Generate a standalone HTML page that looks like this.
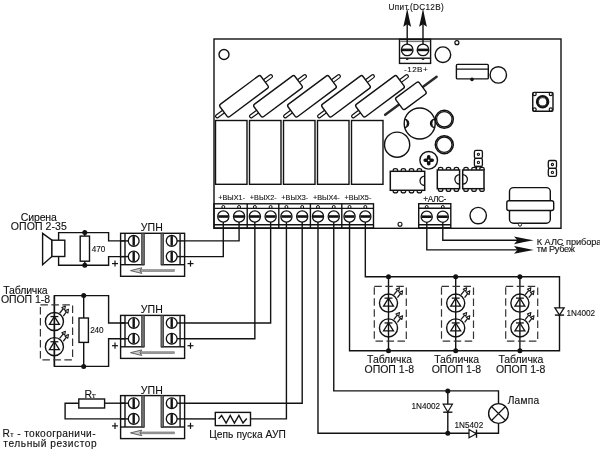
<!DOCTYPE html>
<html><head><meta charset="utf-8"><style>
html,body{margin:0;padding:0;background:#fff;width:600px;height:456px;overflow:hidden}
svg{display:block;will-change:transform}
text{font-family:"Liberation Sans",sans-serif;fill:#111;stroke:#111;stroke-width:0.12px}
</style></head><body>
<svg width="600" height="456" viewBox="0 0 600 456">
<rect width="600" height="456" fill="#fff"/>
<rect x="214.00" y="39.00" width="347.00" height="189.30" rx="0" fill="none" stroke="#121212" stroke-width="1.4"/>
<circle cx="224.00" cy="54.50" r="5.00" fill="none" stroke="#121212" stroke-width="1.4"/>
<g transform="translate(244.00,96.30) rotate(-36.7)"><rect x="-35.0" y="-1.6" width="70" height="3.2" rx="1.6" fill="#fff" stroke="#121212" stroke-width="1.2"/><rect x="-25.5" y="-7.7" width="51" height="15.4" rx="2" fill="#fff" stroke="#121212" stroke-width="1.4"/></g>
<g transform="translate(278.00,96.30) rotate(-36.7)"><rect x="-35.0" y="-1.6" width="70" height="3.2" rx="1.6" fill="#fff" stroke="#121212" stroke-width="1.2"/><rect x="-25.5" y="-7.7" width="51" height="15.4" rx="2" fill="#fff" stroke="#121212" stroke-width="1.4"/></g>
<g transform="translate(312.00,96.30) rotate(-36.7)"><rect x="-35.0" y="-1.6" width="70" height="3.2" rx="1.6" fill="#fff" stroke="#121212" stroke-width="1.2"/><rect x="-25.5" y="-7.7" width="51" height="15.4" rx="2" fill="#fff" stroke="#121212" stroke-width="1.4"/></g>
<g transform="translate(346.00,96.30) rotate(-36.7)"><rect x="-35.0" y="-1.6" width="70" height="3.2" rx="1.6" fill="#fff" stroke="#121212" stroke-width="1.2"/><rect x="-25.5" y="-7.7" width="51" height="15.4" rx="2" fill="#fff" stroke="#121212" stroke-width="1.4"/></g>
<g transform="translate(380.00,96.30) rotate(-36.7)"><rect x="-35.0" y="-1.6" width="70" height="3.2" rx="1.6" fill="#fff" stroke="#121212" stroke-width="1.2"/><rect x="-25.5" y="-7.7" width="51" height="15.4" rx="2" fill="#fff" stroke="#121212" stroke-width="1.4"/></g>
<g transform="translate(410.90,95.80) rotate(-36.5)"><line x1="-32.0" y1="0" x2="32.0" y2="0" stroke="#2a2a2a" stroke-width="2.5" stroke-linecap="round"/><rect x="-14.5" y="-7.3" width="29" height="14.6" rx="2" fill="#fff" stroke="#121212" stroke-width="1.4"/></g>
<rect x="215.50" y="120.50" width="31.50" height="63.80" rx="0" fill="none" stroke="#121212" stroke-width="1.4"/>
<rect x="249.50" y="120.50" width="31.50" height="63.80" rx="0" fill="none" stroke="#121212" stroke-width="1.4"/>
<rect x="283.50" y="120.50" width="31.50" height="63.80" rx="0" fill="none" stroke="#121212" stroke-width="1.4"/>
<rect x="317.50" y="120.50" width="31.50" height="63.80" rx="0" fill="none" stroke="#121212" stroke-width="1.4"/>
<rect x="351.50" y="120.50" width="31.50" height="63.80" rx="0" fill="none" stroke="#121212" stroke-width="1.4"/>
<rect x="214.00" y="203.80" width="159.50" height="24.20" rx="0" fill="none" stroke="#121212" stroke-width="1.4"/>
<line x1="214.00" y1="208.40" x2="373.50" y2="208.40" stroke="#121212" stroke-width="1.4"/>
<line x1="214.00" y1="224.80" x2="373.50" y2="224.80" stroke="#121212" stroke-width="1.4"/>
<line x1="247.20" y1="203.80" x2="247.20" y2="228.00" stroke="#121212" stroke-width="1.4"/>
<line x1="278.80" y1="203.80" x2="278.80" y2="228.00" stroke="#121212" stroke-width="1.4"/>
<line x1="310.40" y1="203.80" x2="310.40" y2="228.00" stroke="#121212" stroke-width="1.4"/>
<line x1="341.80" y1="203.80" x2="341.80" y2="228.00" stroke="#121212" stroke-width="1.4"/>
<circle cx="223.30" cy="216.50" r="5.60" fill="#fff" stroke="#121212" stroke-width="1.3"/>
<rect x="218.30" y="215.20" width="10.00" height="2.6" fill="#121212"/>
<circle cx="223.30" cy="207.00" r="1.50" fill="none" stroke="#121212" stroke-width="1"/>
<circle cx="239.08" cy="216.50" r="5.60" fill="#fff" stroke="#121212" stroke-width="1.3"/>
<rect x="234.08" y="215.20" width="10.00" height="2.6" fill="#121212"/>
<circle cx="239.08" cy="207.00" r="1.50" fill="none" stroke="#121212" stroke-width="1"/>
<circle cx="254.86" cy="216.50" r="5.60" fill="#fff" stroke="#121212" stroke-width="1.3"/>
<rect x="249.86" y="215.20" width="10.00" height="2.6" fill="#121212"/>
<circle cx="254.86" cy="207.00" r="1.50" fill="none" stroke="#121212" stroke-width="1"/>
<circle cx="270.64" cy="216.50" r="5.60" fill="#fff" stroke="#121212" stroke-width="1.3"/>
<rect x="265.64" y="215.20" width="10.00" height="2.6" fill="#121212"/>
<circle cx="270.64" cy="207.00" r="1.50" fill="none" stroke="#121212" stroke-width="1"/>
<circle cx="286.42" cy="216.50" r="5.60" fill="#fff" stroke="#121212" stroke-width="1.3"/>
<rect x="281.42" y="215.20" width="10.00" height="2.6" fill="#121212"/>
<circle cx="286.42" cy="207.00" r="1.50" fill="none" stroke="#121212" stroke-width="1"/>
<circle cx="302.20" cy="216.50" r="5.60" fill="#fff" stroke="#121212" stroke-width="1.3"/>
<rect x="297.20" y="215.20" width="10.00" height="2.6" fill="#121212"/>
<circle cx="302.20" cy="207.00" r="1.50" fill="none" stroke="#121212" stroke-width="1"/>
<circle cx="317.98" cy="216.50" r="5.60" fill="#fff" stroke="#121212" stroke-width="1.3"/>
<rect x="312.98" y="215.20" width="10.00" height="2.6" fill="#121212"/>
<circle cx="317.98" cy="207.00" r="1.50" fill="none" stroke="#121212" stroke-width="1"/>
<circle cx="333.76" cy="216.50" r="5.60" fill="#fff" stroke="#121212" stroke-width="1.3"/>
<rect x="328.76" y="215.20" width="10.00" height="2.6" fill="#121212"/>
<circle cx="333.76" cy="207.00" r="1.50" fill="none" stroke="#121212" stroke-width="1"/>
<circle cx="349.54" cy="216.50" r="5.60" fill="#fff" stroke="#121212" stroke-width="1.3"/>
<rect x="344.54" y="215.20" width="10.00" height="2.6" fill="#121212"/>
<circle cx="349.54" cy="207.00" r="1.50" fill="none" stroke="#121212" stroke-width="1"/>
<circle cx="365.32" cy="216.50" r="5.60" fill="#fff" stroke="#121212" stroke-width="1.3"/>
<rect x="360.32" y="215.20" width="10.00" height="2.6" fill="#121212"/>
<circle cx="365.32" cy="207.00" r="1.50" fill="none" stroke="#121212" stroke-width="1"/>
<text x="218.25" y="200.40" font-size="7.2" textLength="26.80" lengthAdjust="spacing">+ВЫХ1-</text>
<text x="249.81" y="200.40" font-size="7.2" textLength="26.80" lengthAdjust="spacing">+ВЫХ2-</text>
<text x="281.37" y="200.40" font-size="7.2" textLength="26.80" lengthAdjust="spacing">+ВЫХ3-</text>
<text x="312.93" y="200.40" font-size="7.2" textLength="26.80" lengthAdjust="spacing">+ВЫХ4-</text>
<text x="344.49" y="200.40" font-size="7.2" textLength="26.80" lengthAdjust="spacing">+ВЫХ5-</text>
<rect x="418.70" y="203.70" width="32.10" height="24.10" rx="0" fill="none" stroke="#121212" stroke-width="1.4"/>
<line x1="418.70" y1="208.30" x2="450.80" y2="208.30" stroke="#121212" stroke-width="1.4"/>
<line x1="418.70" y1="224.80" x2="450.80" y2="224.80" stroke="#121212" stroke-width="1.4"/>
<circle cx="426.70" cy="216.70" r="5.60" fill="#fff" stroke="#121212" stroke-width="1.3"/>
<rect x="421.70" y="215.40" width="10.00" height="2.6" fill="#121212"/>
<circle cx="426.70" cy="207.00" r="1.50" fill="none" stroke="#121212" stroke-width="1"/>
<circle cx="442.80" cy="216.70" r="5.60" fill="#fff" stroke="#121212" stroke-width="1.3"/>
<rect x="437.80" y="215.40" width="10.00" height="2.6" fill="#121212"/>
<circle cx="442.80" cy="207.00" r="1.50" fill="none" stroke="#121212" stroke-width="1"/>
<text x="423.30" y="202.30" font-size="8.4" textLength="23.00" lengthAdjust="spacing">+АЛС-</text>
<circle cx="478.20" cy="215.60" r="8.20" fill="none" stroke="#121212" stroke-width="1.4"/>
<circle cx="400.00" cy="224.30" r="2.00" fill="none" stroke="#121212" stroke-width="1.1"/>
<rect x="509.50" y="187.60" width="40.80" height="35.60" rx="4" fill="none" stroke="#121212" stroke-width="1.4"/>
<rect x="506.80" y="200.80" width="46.90" height="9.70" rx="2" fill="#fff" stroke="#121212" stroke-width="1.4"/>
<circle cx="520.00" cy="224.60" r="1.60" fill="#fff" stroke="#121212" stroke-width="1"/>
<rect x="548.30" y="160.50" width="8.20" height="7.90" rx="1.6" fill="none" stroke="#121212" stroke-width="1.3"/>
<rect x="548.30" y="168.40" width="8.20" height="7.90" rx="1.6" fill="none" stroke="#121212" stroke-width="1.3"/>
<circle cx="552.40" cy="164.50" r="1.10" fill="#fff" stroke="#121212" stroke-width="1.1"/>
<circle cx="552.40" cy="172.40" r="1.10" fill="#fff" stroke="#121212" stroke-width="1.1"/>
<rect x="474.40" y="150.30" width="8.00" height="8.10" rx="1.6" fill="none" stroke="#121212" stroke-width="1.3"/>
<rect x="474.40" y="158.40" width="8.00" height="8.10" rx="1.6" fill="none" stroke="#121212" stroke-width="1.3"/>
<line x1="476.00" y1="166.50" x2="481.00" y2="166.50" stroke="#121212" stroke-width="1.3"/>
<line x1="476.50" y1="166.50" x2="476.50" y2="170.00" stroke="#121212" stroke-width="1.2"/>
<line x1="480.50" y1="166.50" x2="480.50" y2="170.00" stroke="#121212" stroke-width="1.2"/>
<circle cx="478.40" cy="154.30" r="1.10" fill="#fff" stroke="#121212" stroke-width="1.1"/>
<circle cx="478.40" cy="162.40" r="1.10" fill="#fff" stroke="#121212" stroke-width="1.1"/>
<path d="M393.20,171.30 L393.20,170.10 Q393.20,168.70 395.40,168.70 Q397.60,168.70 397.60,170.10 L397.60,171.30" fill="#fff" stroke="#121212" stroke-width="1.2"/>
<path d="M393.20,190.30 L393.20,191.50 Q393.20,192.90 395.40,192.90 Q397.60,192.90 397.60,191.50 L397.60,190.30" fill="#fff" stroke="#121212" stroke-width="1.2"/>
<path d="M401.20,171.30 L401.20,170.10 Q401.20,168.70 403.40,168.70 Q405.60,168.70 405.60,170.10 L405.60,171.30" fill="#fff" stroke="#121212" stroke-width="1.2"/>
<path d="M401.20,190.30 L401.20,191.50 Q401.20,192.90 403.40,192.90 Q405.60,192.90 405.60,191.50 L405.60,190.30" fill="#fff" stroke="#121212" stroke-width="1.2"/>
<path d="M409.30,171.30 L409.30,170.10 Q409.30,168.70 411.50,168.70 Q413.70,168.70 413.70,170.10 L413.70,171.30" fill="#fff" stroke="#121212" stroke-width="1.2"/>
<path d="M409.30,190.30 L409.30,191.50 Q409.30,192.90 411.50,192.90 Q413.70,192.90 413.70,191.50 L413.70,190.30" fill="#fff" stroke="#121212" stroke-width="1.2"/>
<path d="M417.20,171.30 L417.20,170.10 Q417.20,168.70 419.40,168.70 Q421.60,168.70 421.60,170.10 L421.60,171.30" fill="#fff" stroke="#121212" stroke-width="1.2"/>
<path d="M417.20,190.30 L417.20,191.50 Q417.20,192.90 419.40,192.90 Q421.60,192.90 421.60,191.50 L421.60,190.30" fill="#fff" stroke="#121212" stroke-width="1.2"/>
<rect x="390.30" y="171.30" width="34.40" height="19.00" rx="0" fill="#fff" stroke="#121212" stroke-width="1.5"/>
<path d="M424.70,176.10 A4.7,4.7 0 0 0 424.70,185.50" fill="none" stroke="#121212" stroke-width="1.3"/>
<path d="M438.40,170.00 L438.40,168.80 Q438.40,167.40 440.60,167.40 Q442.80,167.40 442.80,168.80 L442.80,170.00" fill="#fff" stroke="#121212" stroke-width="1.2"/>
<path d="M438.40,188.70 L438.40,189.90 Q438.40,191.30 440.60,191.30 Q442.80,191.30 442.80,189.90 L442.80,188.70" fill="#fff" stroke="#121212" stroke-width="1.2"/>
<path d="M446.30,170.00 L446.30,168.80 Q446.30,167.40 448.50,167.40 Q450.70,167.40 450.70,168.80 L450.70,170.00" fill="#fff" stroke="#121212" stroke-width="1.2"/>
<path d="M446.30,188.70 L446.30,189.90 Q446.30,191.30 448.50,191.30 Q450.70,191.30 450.70,189.90 L450.70,188.70" fill="#fff" stroke="#121212" stroke-width="1.2"/>
<path d="M454.20,170.00 L454.20,168.80 Q454.20,167.40 456.40,167.40 Q458.60,167.40 458.60,168.80 L458.60,170.00" fill="#fff" stroke="#121212" stroke-width="1.2"/>
<path d="M454.20,188.70 L454.20,189.90 Q454.20,191.30 456.40,191.30 Q458.60,191.30 458.60,189.90 L458.60,188.70" fill="#fff" stroke="#121212" stroke-width="1.2"/>
<rect x="437.30" y="170.00" width="22.30" height="18.70" rx="0" fill="#fff" stroke="#121212" stroke-width="1.5"/>
<path d="M459.60,174.65 A4.7,4.7 0 0 0 459.60,184.05" fill="none" stroke="#121212" stroke-width="1.3"/>
<path d="M463.80,170.00 L463.80,168.80 Q463.80,167.40 466.00,167.40 Q468.20,167.40 468.20,168.80 L468.20,170.00" fill="#fff" stroke="#121212" stroke-width="1.2"/>
<path d="M463.80,188.70 L463.80,189.90 Q463.80,191.30 466.00,191.30 Q468.20,191.30 468.20,189.90 L468.20,188.70" fill="#fff" stroke="#121212" stroke-width="1.2"/>
<path d="M471.80,170.00 L471.80,168.80 Q471.80,167.40 474.00,167.40 Q476.20,167.40 476.20,168.80 L476.20,170.00" fill="#fff" stroke="#121212" stroke-width="1.2"/>
<path d="M471.80,188.70 L471.80,189.90 Q471.80,191.30 474.00,191.30 Q476.20,191.30 476.20,189.90 L476.20,188.70" fill="#fff" stroke="#121212" stroke-width="1.2"/>
<path d="M479.80,170.00 L479.80,168.80 Q479.80,167.40 482.00,167.40 Q484.20,167.40 484.20,168.80 L484.20,170.00" fill="#fff" stroke="#121212" stroke-width="1.2"/>
<path d="M479.80,188.70 L479.80,189.90 Q479.80,191.30 482.00,191.30 Q484.20,191.30 484.20,189.90 L484.20,188.70" fill="#fff" stroke="#121212" stroke-width="1.2"/>
<rect x="462.70" y="170.00" width="21.30" height="18.70" rx="0" fill="#fff" stroke="#121212" stroke-width="1.5"/>
<path d="M462.70,174.65 A4.7,4.7 0 0 1 462.70,184.05" fill="none" stroke="#121212" stroke-width="1.3"/>
<circle cx="428.70" cy="160.30" r="8.80" fill="none" stroke="#121212" stroke-width="1.4"/>
<path d="M425.2,160.3 H432.2 M428.7,156.8 V163.8" stroke="#121212" stroke-width="3.6" stroke-linecap="round"/>
<circle cx="428.7" cy="160.3" r="0.9" fill="#fff"/>
<circle cx="419.70" cy="123.50" r="15.50" fill="none" stroke="#121212" stroke-width="1.4"/>
<path d="M404.6,119.2 A4.2,4.2 0 0 1 404.6,127.6" fill="none" stroke="#121212" stroke-width="1.1"/>
<path d="M404.6,119.2 A4.2,4.2 0 0 1 404.6,127.6 A5,5 0 0 0 404.6,119.2 Z" fill="#121212"/>
<path d="M434.6,119.2 A4.2,4.2 0 0 0 434.6,127.6" fill="none" stroke="#121212" stroke-width="1.1"/>
<path d="M434.6,119.2 A4.2,4.2 0 0 0 434.6,127.6 A5,5 0 0 1 434.6,119.2 Z" fill="#121212"/>
<circle cx="397.10" cy="144.70" r="12.60" fill="none" stroke="#121212" stroke-width="1.4"/>
<circle cx="444.30" cy="119.30" r="9.00" fill="none" stroke="#121212" stroke-width="1.5"/>
<circle cx="444.30" cy="119.30" r="7.70" fill="none" stroke="#121212" stroke-width="1.3"/>
<circle cx="444.30" cy="144.70" r="9.00" fill="none" stroke="#121212" stroke-width="1.5"/>
<circle cx="444.30" cy="144.70" r="7.70" fill="none" stroke="#121212" stroke-width="1.3"/>
<rect x="456.40" y="64.40" width="31.90" height="14.50" rx="1" fill="none" stroke="#121212" stroke-width="1.4"/>
<line x1="456.40" y1="69.10" x2="488.30" y2="69.10" stroke="#121212" stroke-width="1.4"/>
<circle cx="472.00" cy="79.40" r="1.8" fill="#121212"/>
<circle cx="498.30" cy="74.90" r="8.20" fill="none" stroke="#121212" stroke-width="1.4"/>
<circle cx="442.90" cy="54.70" r="7.80" fill="none" stroke="#121212" stroke-width="1.4"/>
<circle cx="456.90" cy="42.70" r="2.00" fill="none" stroke="#121212" stroke-width="1.2"/>
<rect x="532.75" y="92.40" width="20.25" height="18.90" rx="1.2" fill="none" stroke="#121212" stroke-width="1.4"/>
<circle cx="542.60" cy="101.80" r="5.60" fill="none" stroke="#121212" stroke-width="2.3"/>
<circle cx="542.60" cy="101.80" r="4.10" fill="none" stroke="#121212" stroke-width="0.9"/>
<circle cx="534.60" cy="94.10" r="1.60" fill="#fff" stroke="#121212" stroke-width="1.2"/>
<circle cx="550.80" cy="94.10" r="1.60" fill="#fff" stroke="#121212" stroke-width="1.2"/>
<circle cx="534.60" cy="109.50" r="1.60" fill="#fff" stroke="#121212" stroke-width="1.2"/>
<circle cx="550.80" cy="109.50" r="1.60" fill="#fff" stroke="#121212" stroke-width="1.2"/>
<rect x="399.50" y="39.30" width="31.10" height="24.10" rx="0" fill="#fff" stroke="#121212" stroke-width="1.4"/>
<rect x="400.2" y="40.6" width="29.7" height="1.5" fill="#777"/>
<line x1="399.50" y1="58.20" x2="430.60" y2="58.20" stroke="#121212" stroke-width="1.4"/>
<circle cx="407.20" cy="49.90" r="5.80" fill="#fff" stroke="#121212" stroke-width="1.3"/>
<rect x="402.00" y="48.60" width="10.40" height="2.6" fill="#121212"/>
<path d="M405.7,58.4 A1.5,1.5 0 0 0 408.7,58.4 Z" fill="#121212"/>
<circle cx="423.00" cy="49.90" r="5.80" fill="#fff" stroke="#121212" stroke-width="1.3"/>
<rect x="417.80" y="48.60" width="10.40" height="2.6" fill="#121212"/>
<path d="M421.5,58.4 A1.5,1.5 0 0 0 424.5,58.4 Z" fill="#121212"/>
<line x1="407.20" y1="20.00" x2="407.20" y2="44.50" stroke="#121212" stroke-width="1.4"/>
<path d="M407.2,8.3 Q408.8,17.3 411.09999999999997,26.8 L407.2,24.2 L403.3,26.8 Q405.59999999999997,17.3 407.2,8.3 Z" fill="#121212"/>
<line x1="423.00" y1="20.00" x2="423.00" y2="44.50" stroke="#121212" stroke-width="1.4"/>
<path d="M423,8.3 Q424.6,17.3 426.9,26.8 L423,24.2 L419.1,26.8 Q421.4,17.3 423,8.3 Z" fill="#121212"/>
<text x="388.60" y="9.80" font-size="8.2" textLength="55.10" lengthAdjust="spacing">Uпит.(DC12В)</text>
<text x="404.00" y="71.90" font-size="8.1" textLength="23.70" lengthAdjust="spacing">-12В+</text>
<rect x="120.60" y="233.30" width="64.00" height="43.00" rx="0" fill="none" stroke="#121212" stroke-width="1.4"/>
<line x1="125.00" y1="233.30" x2="125.00" y2="264.70" stroke="#121212" stroke-width="1.4"/>
<line x1="180.10" y1="233.30" x2="180.10" y2="264.70" stroke="#333" stroke-width="1.6"/>
<line x1="120.60" y1="264.70" x2="144.30" y2="264.70" stroke="#121212" stroke-width="1.4"/>
<line x1="161.00" y1="264.70" x2="184.60" y2="264.70" stroke="#121212" stroke-width="1.4"/>
<rect x="141.70" y="233.30" width="2.60" height="31.40" rx="0" fill="#777" stroke="#333" stroke-width="0.9"/>
<rect x="161.00" y="233.30" width="2.40" height="31.40" rx="0" fill="#777" stroke="#333" stroke-width="0.9"/>
<line x1="120.60" y1="240.90" x2="133.70" y2="240.90" stroke="#121212" stroke-width="1.4"/>
<line x1="171.70" y1="240.90" x2="184.60" y2="240.90" stroke="#121212" stroke-width="1.4"/>
<circle cx="133.70" cy="240.90" r="5.40" fill="#fff" stroke="#121212" stroke-width="1.3"/>
<rect x="132.50" y="236.10" width="2.4" height="9.60" fill="#121212"/>
<circle cx="171.70" cy="240.90" r="5.40" fill="#fff" stroke="#121212" stroke-width="1.3"/>
<rect x="170.50" y="236.10" width="2.4" height="9.60" fill="#121212"/>
<line x1="120.60" y1="256.60" x2="133.70" y2="256.60" stroke="#121212" stroke-width="1.4"/>
<line x1="171.70" y1="256.60" x2="184.60" y2="256.60" stroke="#121212" stroke-width="1.4"/>
<circle cx="133.70" cy="256.60" r="5.40" fill="#fff" stroke="#121212" stroke-width="1.3"/>
<rect x="132.50" y="251.80" width="2.4" height="9.60" fill="#121212"/>
<circle cx="171.70" cy="256.60" r="5.40" fill="#fff" stroke="#121212" stroke-width="1.3"/>
<rect x="170.50" y="251.80" width="2.4" height="9.60" fill="#121212"/>
<rect x="139" y="269.65" width="35.5" height="1.9" fill="#999" stroke="#777" stroke-width="0.6"/>
<path d="M130.5,270.60 L141.8,267.80 L140,270.60 L141.8,273.40 Z" fill="#ccc" stroke="#555" stroke-width="0.9" stroke-linejoin="round"/>
<text x="140.80" y="231.30" font-size="10.5" textLength="22.10" lengthAdjust="spacing">УПН</text>
<line x1="112.00" y1="263.60" x2="118.00" y2="263.60" stroke="#121212" stroke-width="1.2"/>
<line x1="115.00" y1="260.50" x2="115.00" y2="266.60" stroke="#121212" stroke-width="1.2"/>
<line x1="187.50" y1="263.60" x2="193.50" y2="263.60" stroke="#121212" stroke-width="1.2"/>
<line x1="190.50" y1="260.50" x2="190.50" y2="266.60" stroke="#121212" stroke-width="1.2"/>
<rect x="120.60" y="315.40" width="64.00" height="43.00" rx="0" fill="none" stroke="#121212" stroke-width="1.4"/>
<line x1="125.00" y1="315.40" x2="125.00" y2="346.80" stroke="#121212" stroke-width="1.4"/>
<line x1="180.10" y1="315.40" x2="180.10" y2="346.80" stroke="#333" stroke-width="1.6"/>
<line x1="120.60" y1="346.80" x2="144.30" y2="346.80" stroke="#121212" stroke-width="1.4"/>
<line x1="161.00" y1="346.80" x2="184.60" y2="346.80" stroke="#121212" stroke-width="1.4"/>
<rect x="141.70" y="315.40" width="2.60" height="31.40" rx="0" fill="#777" stroke="#333" stroke-width="0.9"/>
<rect x="161.00" y="315.40" width="2.40" height="31.40" rx="0" fill="#777" stroke="#333" stroke-width="0.9"/>
<line x1="120.60" y1="323.00" x2="133.70" y2="323.00" stroke="#121212" stroke-width="1.4"/>
<line x1="171.70" y1="323.00" x2="184.60" y2="323.00" stroke="#121212" stroke-width="1.4"/>
<circle cx="133.70" cy="323.00" r="5.40" fill="#fff" stroke="#121212" stroke-width="1.3"/>
<rect x="132.50" y="318.20" width="2.4" height="9.60" fill="#121212"/>
<circle cx="171.70" cy="323.00" r="5.40" fill="#fff" stroke="#121212" stroke-width="1.3"/>
<rect x="170.50" y="318.20" width="2.4" height="9.60" fill="#121212"/>
<line x1="120.60" y1="338.70" x2="133.70" y2="338.70" stroke="#121212" stroke-width="1.4"/>
<line x1="171.70" y1="338.70" x2="184.60" y2="338.70" stroke="#121212" stroke-width="1.4"/>
<circle cx="133.70" cy="338.70" r="5.40" fill="#fff" stroke="#121212" stroke-width="1.3"/>
<rect x="132.50" y="333.90" width="2.4" height="9.60" fill="#121212"/>
<circle cx="171.70" cy="338.70" r="5.40" fill="#fff" stroke="#121212" stroke-width="1.3"/>
<rect x="170.50" y="333.90" width="2.4" height="9.60" fill="#121212"/>
<rect x="139" y="351.75" width="35.5" height="1.9" fill="#999" stroke="#777" stroke-width="0.6"/>
<path d="M130.5,352.70 L141.8,349.90 L140,352.70 L141.8,355.50 Z" fill="#ccc" stroke="#555" stroke-width="0.9" stroke-linejoin="round"/>
<text x="140.80" y="313.40" font-size="10.5" textLength="22.10" lengthAdjust="spacing">УПН</text>
<line x1="112.00" y1="345.70" x2="118.00" y2="345.70" stroke="#121212" stroke-width="1.2"/>
<line x1="115.00" y1="342.60" x2="115.00" y2="348.70" stroke="#121212" stroke-width="1.2"/>
<line x1="187.50" y1="345.70" x2="193.50" y2="345.70" stroke="#121212" stroke-width="1.2"/>
<line x1="190.50" y1="342.60" x2="190.50" y2="348.70" stroke="#121212" stroke-width="1.2"/>
<rect x="120.60" y="395.60" width="64.00" height="43.00" rx="0" fill="none" stroke="#121212" stroke-width="1.4"/>
<line x1="125.00" y1="395.60" x2="125.00" y2="427.00" stroke="#121212" stroke-width="1.4"/>
<line x1="180.10" y1="395.60" x2="180.10" y2="427.00" stroke="#333" stroke-width="1.6"/>
<line x1="120.60" y1="427.00" x2="144.30" y2="427.00" stroke="#121212" stroke-width="1.4"/>
<line x1="161.00" y1="427.00" x2="184.60" y2="427.00" stroke="#121212" stroke-width="1.4"/>
<rect x="141.70" y="395.60" width="2.60" height="31.40" rx="0" fill="#777" stroke="#333" stroke-width="0.9"/>
<rect x="161.00" y="395.60" width="2.40" height="31.40" rx="0" fill="#777" stroke="#333" stroke-width="0.9"/>
<line x1="120.60" y1="403.20" x2="133.70" y2="403.20" stroke="#121212" stroke-width="1.4"/>
<line x1="171.70" y1="403.20" x2="184.60" y2="403.20" stroke="#121212" stroke-width="1.4"/>
<circle cx="133.70" cy="403.20" r="5.40" fill="#fff" stroke="#121212" stroke-width="1.3"/>
<rect x="132.50" y="398.40" width="2.4" height="9.60" fill="#121212"/>
<circle cx="171.70" cy="403.20" r="5.40" fill="#fff" stroke="#121212" stroke-width="1.3"/>
<rect x="170.50" y="398.40" width="2.4" height="9.60" fill="#121212"/>
<line x1="120.60" y1="418.90" x2="133.70" y2="418.90" stroke="#121212" stroke-width="1.4"/>
<line x1="171.70" y1="418.90" x2="184.60" y2="418.90" stroke="#121212" stroke-width="1.4"/>
<circle cx="133.70" cy="418.90" r="5.40" fill="#fff" stroke="#121212" stroke-width="1.3"/>
<rect x="132.50" y="414.10" width="2.4" height="9.60" fill="#121212"/>
<circle cx="171.70" cy="418.90" r="5.40" fill="#fff" stroke="#121212" stroke-width="1.3"/>
<rect x="170.50" y="414.10" width="2.4" height="9.60" fill="#121212"/>
<rect x="139" y="431.95" width="35.5" height="1.9" fill="#999" stroke="#777" stroke-width="0.6"/>
<path d="M130.5,432.90 L141.8,430.10 L140,432.90 L141.8,435.70 Z" fill="#ccc" stroke="#555" stroke-width="0.9" stroke-linejoin="round"/>
<text x="140.80" y="393.60" font-size="10.5" textLength="22.10" lengthAdjust="spacing">УПН</text>
<line x1="112.00" y1="425.90" x2="118.00" y2="425.90" stroke="#121212" stroke-width="1.2"/>
<line x1="115.00" y1="422.80" x2="115.00" y2="428.90" stroke="#121212" stroke-width="1.2"/>
<line x1="187.50" y1="425.90" x2="193.50" y2="425.90" stroke="#121212" stroke-width="1.2"/>
<line x1="190.50" y1="422.80" x2="190.50" y2="428.90" stroke="#121212" stroke-width="1.2"/>
<polyline points="184.60,240.90 239.08,240.90 239.08,222.00" fill="none" stroke="#121212" stroke-width="1.4" stroke-linejoin="miter"/>
<polyline points="184.60,256.60 223.30,256.60 223.30,222.00" fill="none" stroke="#121212" stroke-width="1.4" stroke-linejoin="miter"/>
<polyline points="184.60,323.00 270.64,323.00 270.64,222.00" fill="none" stroke="#121212" stroke-width="1.4" stroke-linejoin="miter"/>
<polyline points="184.60,338.70 254.86,338.70 254.86,222.00" fill="none" stroke="#121212" stroke-width="1.4" stroke-linejoin="miter"/>
<polyline points="184.60,403.20 302.20,403.20 302.20,222.00" fill="none" stroke="#121212" stroke-width="1.4" stroke-linejoin="miter"/>
<polyline points="184.60,418.90 215.30,418.90" fill="none" stroke="#121212" stroke-width="1.4" stroke-linejoin="miter"/>
<polyline points="250.50,418.90 286.42,418.90 286.42,222.00" fill="none" stroke="#121212" stroke-width="1.4" stroke-linejoin="miter"/>
<rect x="215.30" y="412.40" width="35.20" height="13.20" rx="0" fill="none" stroke="#121212" stroke-width="1.4"/>
<polyline points="218.6,418.9 221.6,415.5 226.1,423 230.25,415.5 234.4,423 238.9,415.5 243,423 246.8,418.5" fill="none" stroke="#121212" stroke-width="1.4" stroke-linejoin="miter"/>
<text x="209.20" y="437.70" font-size="10.2" textLength="76.60" lengthAdjust="spacing">Цепь пуска АУП</text>
<polyline points="125.00,240.90 108.60,240.90 108.60,232.60 58.60,232.60 58.60,265.30 108.60,265.30 108.60,256.60 125.00,256.60" fill="none" stroke="#121212" stroke-width="1.4" stroke-linejoin="miter"/>
<rect x="80.20" y="236.10" width="9.30" height="25.10" rx="0" fill="none" stroke="#121212" stroke-width="1.4"/>
<line x1="84.80" y1="232.60" x2="84.80" y2="236.10" stroke="#121212" stroke-width="1.4"/>
<line x1="84.80" y1="261.20" x2="84.80" y2="265.30" stroke="#121212" stroke-width="1.4"/>
<circle cx="84.80" cy="232.60" r="2.5" fill="#121212"/>
<circle cx="84.80" cy="265.30" r="2.5" fill="#121212"/>
<text x="91.75" y="251.90" font-size="8.2" textLength="13.45" lengthAdjust="spacing">470</text>
<polygon points="42.6,233.4 51.9,240.2 51.9,256.5 42.6,264.7" fill="none" stroke="#121212" stroke-width="1.4"/>
<rect x="51.90" y="240.20" width="12.90" height="16.30" rx="0" fill="#fff" stroke="#121212" stroke-width="1.4"/>
<text x="20.75" y="221.40" font-size="10.5" textLength="36.14" lengthAdjust="spacing">Сирена</text>
<text x="10.80" y="230.40" font-size="10.5" textLength="56.00" lengthAdjust="spacing">ОПОП 2-35</text>
<polyline points="125.00,323.00 108.60,323.00 108.60,295.60 54.40,295.60 54.40,366.40 108.60,366.40 108.60,338.70 125.00,338.70" fill="none" stroke="#121212" stroke-width="1.4" stroke-linejoin="miter"/>
<rect x="79.00" y="318.00" width="9.40" height="24.40" rx="0" fill="none" stroke="#121212" stroke-width="1.4"/>
<line x1="83.70" y1="295.60" x2="83.70" y2="318.00" stroke="#121212" stroke-width="1.4"/>
<line x1="83.70" y1="342.40" x2="83.70" y2="366.40" stroke="#121212" stroke-width="1.4"/>
<circle cx="83.70" cy="295.60" r="2.5" fill="#121212"/>
<circle cx="83.70" cy="366.40" r="2.5" fill="#121212"/>
<text x="90.20" y="332.80" font-size="8.2" textLength="13.40" lengthAdjust="spacing">240</text>
<line x1="54.40" y1="295.60" x2="54.40" y2="366.40" stroke="#121212" stroke-width="1.4"/>
<rect x="40.4" y="304.8" width="32.199999999999996" height="55.099999999999966" fill="none" stroke="#333" stroke-width="1.2" stroke-dasharray="7.5,3.5"/>
<circle cx="54.40" cy="321.50" r="9.05" fill="none" stroke="#121212" stroke-width="1.4"/>
<path d="M49.45,324.45 L59.35,324.45 L54.40,316.55 Z" fill="none" stroke="#121212" stroke-width="1.3" stroke-linejoin="miter"/>
<line x1="50.45" y1="316.55" x2="58.35" y2="316.55" stroke="#121212" stroke-width="1.3"/>
<line x1="59.60" y1="313.25" x2="63.27" y2="308.70" stroke="#1a1a1a" stroke-width="1.3"/>
<path d="M65.40,306.05 L64.67,309.83 L61.87,307.57 Z" fill="#fff" stroke="#1a1a1a" stroke-width="1.1" stroke-linejoin="round"/>
<line x1="63.30" y1="316.05" x2="66.43" y2="311.95" stroke="#1a1a1a" stroke-width="1.3"/>
<path d="M68.50,309.25 L67.86,313.04 L65.00,310.86 Z" fill="#fff" stroke="#1a1a1a" stroke-width="1.1" stroke-linejoin="round"/>
<circle cx="54.40" cy="346.70" r="9.05" fill="none" stroke="#121212" stroke-width="1.4"/>
<path d="M49.45,349.65 L59.35,349.65 L54.40,341.75 Z" fill="none" stroke="#121212" stroke-width="1.3" stroke-linejoin="miter"/>
<line x1="50.45" y1="341.75" x2="58.35" y2="341.75" stroke="#121212" stroke-width="1.3"/>
<line x1="59.60" y1="338.45" x2="63.27" y2="333.90" stroke="#1a1a1a" stroke-width="1.3"/>
<path d="M65.40,331.25 L64.67,335.03 L61.87,332.77 Z" fill="#fff" stroke="#1a1a1a" stroke-width="1.1" stroke-linejoin="round"/>
<line x1="63.30" y1="341.25" x2="66.43" y2="337.15" stroke="#1a1a1a" stroke-width="1.3"/>
<path d="M68.50,334.45 L67.86,338.24 L65.00,336.06 Z" fill="#fff" stroke="#1a1a1a" stroke-width="1.1" stroke-linejoin="round"/>
<text x="3.30" y="293.70" font-size="10.5" textLength="44.40" lengthAdjust="spacing">Табличка</text>
<text x="0.90" y="302.70" font-size="10.5" textLength="49.10" lengthAdjust="spacing">ОПОП 1-8</text>
<polyline points="125.00,403.20 104.60,403.20" fill="none" stroke="#121212" stroke-width="1.4" stroke-linejoin="miter"/>
<rect x="78.80" y="399.00" width="25.80" height="9.00" rx="0" fill="none" stroke="#121212" stroke-width="1.4"/>
<polyline points="78.80,403.20 65.10,403.20 65.10,418.90 125.00,418.90" fill="none" stroke="#121212" stroke-width="1.4" stroke-linejoin="miter"/>
<text x="84.4" y="397.8" font-size="10.5">R<tspan font-size="8" font-family="Liberation Serif">т</tspan></text>
<text x="2.6" y="436.7" font-size="10.2" textLength="93" lengthAdjust="spacing">R<tspan font-size="7.2">т</tspan> - токоограничи-</text>
<text x="3.30" y="446.50" font-size="10.2" textLength="93.40" lengthAdjust="spacing">тельный резистор</text>
<polyline points="365.32,222.00 365.32,276.80 559.50,276.80 559.50,350.70 349.54,350.70 349.54,222.00" fill="none" stroke="#121212" stroke-width="1.4" stroke-linejoin="miter"/>
<line x1="388.50" y1="276.80" x2="388.50" y2="350.70" stroke="#121212" stroke-width="1.4"/>
<rect x="374.3" y="286.4" width="32.0" height="54.700000000000045" fill="none" stroke="#333" stroke-width="1.2" stroke-dasharray="7.5,3.5"/>
<circle cx="388.50" cy="303.10" r="9.05" fill="none" stroke="#121212" stroke-width="1.4"/>
<path d="M383.55,306.05 L393.45,306.05 L388.50,298.15 Z" fill="none" stroke="#121212" stroke-width="1.3" stroke-linejoin="miter"/>
<line x1="384.55" y1="298.15" x2="392.45" y2="298.15" stroke="#121212" stroke-width="1.3"/>
<line x1="393.70" y1="294.85" x2="397.37" y2="290.30" stroke="#1a1a1a" stroke-width="1.3"/>
<path d="M399.50,287.65 L398.77,291.43 L395.97,289.17 Z" fill="#fff" stroke="#1a1a1a" stroke-width="1.1" stroke-linejoin="round"/>
<line x1="397.40" y1="297.65" x2="400.53" y2="293.55" stroke="#1a1a1a" stroke-width="1.3"/>
<path d="M402.60,290.85 L401.96,294.64 L399.10,292.46 Z" fill="#fff" stroke="#1a1a1a" stroke-width="1.1" stroke-linejoin="round"/>
<circle cx="388.50" cy="327.90" r="9.05" fill="none" stroke="#121212" stroke-width="1.4"/>
<path d="M383.55,330.85 L393.45,330.85 L388.50,322.95 Z" fill="none" stroke="#121212" stroke-width="1.3" stroke-linejoin="miter"/>
<line x1="384.55" y1="322.95" x2="392.45" y2="322.95" stroke="#121212" stroke-width="1.3"/>
<line x1="393.70" y1="319.65" x2="397.37" y2="315.10" stroke="#1a1a1a" stroke-width="1.3"/>
<path d="M399.50,312.45 L398.77,316.23 L395.97,313.97 Z" fill="#fff" stroke="#1a1a1a" stroke-width="1.1" stroke-linejoin="round"/>
<line x1="397.40" y1="322.45" x2="400.53" y2="318.35" stroke="#1a1a1a" stroke-width="1.3"/>
<path d="M402.60,315.65 L401.96,319.44 L399.10,317.26 Z" fill="#fff" stroke="#1a1a1a" stroke-width="1.1" stroke-linejoin="round"/>
<circle cx="388.50" cy="276.80" r="2.5" fill="#121212"/>
<circle cx="388.50" cy="350.70" r="2.5" fill="#121212"/>
<text x="367.00" y="362.80" font-size="10.5" textLength="45.00" lengthAdjust="spacing">Табличка</text>
<text x="364.50" y="372.50" font-size="10.5" textLength="49.50" lengthAdjust="spacing">ОПОП 1-8</text>
<line x1="455.70" y1="276.80" x2="455.70" y2="350.70" stroke="#121212" stroke-width="1.4"/>
<rect x="441.5" y="286.4" width="32.0" height="54.700000000000045" fill="none" stroke="#333" stroke-width="1.2" stroke-dasharray="7.5,3.5"/>
<circle cx="455.70" cy="303.10" r="9.05" fill="none" stroke="#121212" stroke-width="1.4"/>
<path d="M450.75,306.05 L460.65,306.05 L455.70,298.15 Z" fill="none" stroke="#121212" stroke-width="1.3" stroke-linejoin="miter"/>
<line x1="451.75" y1="298.15" x2="459.65" y2="298.15" stroke="#121212" stroke-width="1.3"/>
<line x1="460.90" y1="294.85" x2="464.57" y2="290.30" stroke="#1a1a1a" stroke-width="1.3"/>
<path d="M466.70,287.65 L465.97,291.43 L463.17,289.17 Z" fill="#fff" stroke="#1a1a1a" stroke-width="1.1" stroke-linejoin="round"/>
<line x1="464.60" y1="297.65" x2="467.73" y2="293.55" stroke="#1a1a1a" stroke-width="1.3"/>
<path d="M469.80,290.85 L469.16,294.64 L466.30,292.46 Z" fill="#fff" stroke="#1a1a1a" stroke-width="1.1" stroke-linejoin="round"/>
<circle cx="455.70" cy="327.90" r="9.05" fill="none" stroke="#121212" stroke-width="1.4"/>
<path d="M450.75,330.85 L460.65,330.85 L455.70,322.95 Z" fill="none" stroke="#121212" stroke-width="1.3" stroke-linejoin="miter"/>
<line x1="451.75" y1="322.95" x2="459.65" y2="322.95" stroke="#121212" stroke-width="1.3"/>
<line x1="460.90" y1="319.65" x2="464.57" y2="315.10" stroke="#1a1a1a" stroke-width="1.3"/>
<path d="M466.70,312.45 L465.97,316.23 L463.17,313.97 Z" fill="#fff" stroke="#1a1a1a" stroke-width="1.1" stroke-linejoin="round"/>
<line x1="464.60" y1="322.45" x2="467.73" y2="318.35" stroke="#1a1a1a" stroke-width="1.3"/>
<path d="M469.80,315.65 L469.16,319.44 L466.30,317.26 Z" fill="#fff" stroke="#1a1a1a" stroke-width="1.1" stroke-linejoin="round"/>
<circle cx="455.70" cy="276.80" r="2.5" fill="#121212"/>
<circle cx="455.70" cy="350.70" r="2.5" fill="#121212"/>
<text x="434.20" y="362.80" font-size="10.5" textLength="45.00" lengthAdjust="spacing">Табличка</text>
<text x="431.70" y="372.50" font-size="10.5" textLength="49.50" lengthAdjust="spacing">ОПОП 1-8</text>
<line x1="519.90" y1="276.80" x2="519.90" y2="350.70" stroke="#121212" stroke-width="1.4"/>
<rect x="505.7" y="286.4" width="31.999999999999943" height="54.700000000000045" fill="none" stroke="#333" stroke-width="1.2" stroke-dasharray="7.5,3.5"/>
<circle cx="519.90" cy="303.10" r="9.05" fill="none" stroke="#121212" stroke-width="1.4"/>
<path d="M514.95,306.05 L524.85,306.05 L519.90,298.15 Z" fill="none" stroke="#121212" stroke-width="1.3" stroke-linejoin="miter"/>
<line x1="515.95" y1="298.15" x2="523.85" y2="298.15" stroke="#121212" stroke-width="1.3"/>
<line x1="525.10" y1="294.85" x2="528.77" y2="290.30" stroke="#1a1a1a" stroke-width="1.3"/>
<path d="M530.90,287.65 L530.17,291.43 L527.37,289.17 Z" fill="#fff" stroke="#1a1a1a" stroke-width="1.1" stroke-linejoin="round"/>
<line x1="528.80" y1="297.65" x2="531.93" y2="293.55" stroke="#1a1a1a" stroke-width="1.3"/>
<path d="M534.00,290.85 L533.36,294.64 L530.50,292.46 Z" fill="#fff" stroke="#1a1a1a" stroke-width="1.1" stroke-linejoin="round"/>
<circle cx="519.90" cy="327.90" r="9.05" fill="none" stroke="#121212" stroke-width="1.4"/>
<path d="M514.95,330.85 L524.85,330.85 L519.90,322.95 Z" fill="none" stroke="#121212" stroke-width="1.3" stroke-linejoin="miter"/>
<line x1="515.95" y1="322.95" x2="523.85" y2="322.95" stroke="#121212" stroke-width="1.3"/>
<line x1="525.10" y1="319.65" x2="528.77" y2="315.10" stroke="#1a1a1a" stroke-width="1.3"/>
<path d="M530.90,312.45 L530.17,316.23 L527.37,313.97 Z" fill="#fff" stroke="#1a1a1a" stroke-width="1.1" stroke-linejoin="round"/>
<line x1="528.80" y1="322.45" x2="531.93" y2="318.35" stroke="#1a1a1a" stroke-width="1.3"/>
<path d="M534.00,315.65 L533.36,319.44 L530.50,317.26 Z" fill="#fff" stroke="#1a1a1a" stroke-width="1.1" stroke-linejoin="round"/>
<circle cx="519.90" cy="276.80" r="2.5" fill="#121212"/>
<circle cx="519.90" cy="350.70" r="2.5" fill="#121212"/>
<text x="498.40" y="362.80" font-size="10.5" textLength="45.00" lengthAdjust="spacing">Табличка</text>
<text x="495.90" y="372.50" font-size="10.5" textLength="49.50" lengthAdjust="spacing">ОПОП 1-8</text>
<path d="M554.9,307.9 L564.1,307.9 L559.5,315 Z" fill="#fff" stroke="#121212" stroke-width="1.3"/>
<line x1="554.90" y1="315.10" x2="564.10" y2="315.10" stroke="#121212" stroke-width="1.4"/>
<text x="566.50" y="315.80" font-size="8.2" textLength="28.50" lengthAdjust="spacing">1N4002</text>
<polyline points="333.76,222.00 333.76,390.90 498.50,390.90 498.50,403.60" fill="none" stroke="#121212" stroke-width="1.4" stroke-linejoin="miter"/>
<polyline points="317.98,222.00 317.98,433.30 498.50,433.30 498.50,423.40" fill="none" stroke="#121212" stroke-width="1.4" stroke-linejoin="miter"/>
<line x1="447.80" y1="390.90" x2="447.80" y2="433.30" stroke="#121212" stroke-width="1.4"/>
<circle cx="447.80" cy="390.90" r="2.5" fill="#121212"/>
<circle cx="447.80" cy="433.30" r="2.5" fill="#121212"/>
<path d="M443.2,404.2 L452.4,404.2 L447.8,412 Z" fill="#fff" stroke="#121212" stroke-width="1.2"/>
<line x1="443.20" y1="412.20" x2="452.40" y2="412.20" stroke="#121212" stroke-width="1.4"/>
<text x="411.50" y="409.40" font-size="8.2" textLength="28.50" lengthAdjust="spacing">1N4002</text>
<path d="M469,429.6 L469,437.8 L476.3,433.7 Z" fill="#fff" stroke="#121212" stroke-width="1.2"/>
<line x1="476.50" y1="429.60" x2="476.50" y2="437.80" stroke="#121212" stroke-width="1.4"/>
<text x="454.50" y="428.20" font-size="8.2" textLength="28.70" lengthAdjust="spacing">1N5402</text>
<circle cx="498.50" cy="413.50" r="9.90" fill="#fff" stroke="#121212" stroke-width="1.4"/>
<path d="M491.5,406.5 L505.5,420.5 M505.5,406.5 L491.5,420.5" stroke="#121212" stroke-width="1.2"/>
<text x="507.70" y="404.40" font-size="10.2" textLength="31.50" lengthAdjust="spacing">Лампа</text>
<polyline points="426.80,222.30 426.80,249.90 522.00,249.90" fill="none" stroke="#121212" stroke-width="1.4" stroke-linejoin="miter"/>
<polyline points="442.80,222.30 442.80,240.30 522.00,240.30" fill="none" stroke="#121212" stroke-width="1.4" stroke-linejoin="miter"/>
<path d="M533.7,240.3 Q524.7,238.60000000000002 514,236.4 L517.4,240.3 L514,244.20000000000002 Q524.7,242.0 533.7,240.3 Z" fill="#121212"/>
<path d="M533.7,249.9 Q524.7,248.20000000000002 514,246.0 L517.4,249.9 L514,253.8 Q524.7,251.6 533.7,249.9 Z" fill="#121212"/>
<text x="536.80" y="244.60" font-size="9.2" textLength="64.69" lengthAdjust="spacing">К АЛС прибора</text>
<text x="536.80" y="251.60" font-size="9.2" textLength="38.10" lengthAdjust="spacing">тм Рубеж</text>
</svg>
</body></html>
